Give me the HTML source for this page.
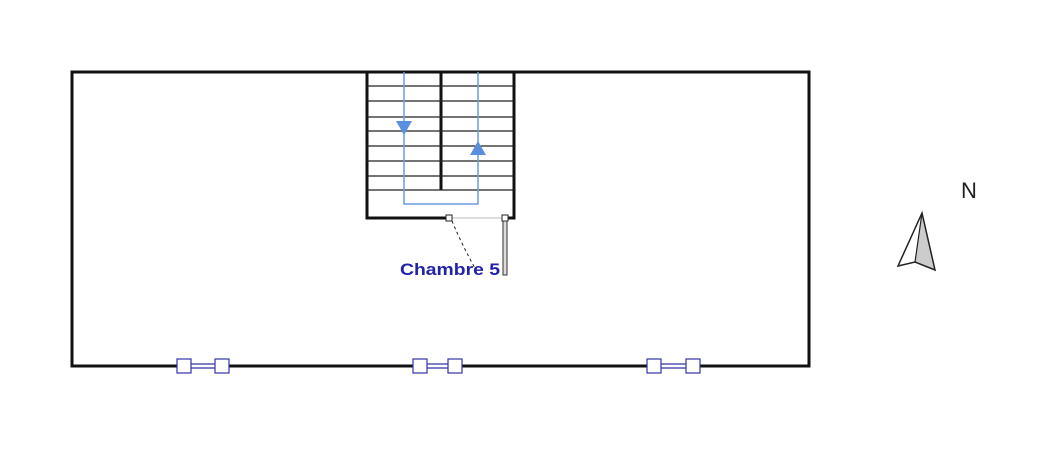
<!DOCTYPE html>
<html><head><style>body{margin:0;background:#fff}svg{display:block}</style></head><body>
<svg width="1039" height="463" viewBox="0 0 1039 463" xmlns="http://www.w3.org/2000/svg">
<g stroke="#111" stroke-width="3" fill="none">
<path d="M367 72 H72 V366 H809 V72 H514"/>
<path d="M367 72 H514"/>
<path d="M367 72 V218 H449"/>
<path d="M514 72 V218 H506"/>
<path d="M441 72 V190"/>
</g>
<g stroke="#222" stroke-width="1.2">
<line x1="367" y1="86" x2="514" y2="86"/><line x1="367" y1="101" x2="514" y2="101"/>
<line x1="367" y1="117" x2="514" y2="117"/><line x1="367" y1="131" x2="514" y2="131"/>
<line x1="367" y1="146" x2="514" y2="146"/><line x1="367" y1="161" x2="514" y2="161"/>
<line x1="367" y1="176" x2="514" y2="176"/><line x1="367" y1="190" x2="514" y2="190"/>
</g>
<path d="M404 72 V204 H478 V72" stroke="#6a9be0" stroke-width="1.5" fill="none"/>
<polygon points="396,121 412,121 404,135" fill="#5a8fe0"/>
<polygon points="470,155 486,155 478,141" fill="#5a8fe0"/>
<line x1="449" y1="218" x2="506" y2="218" stroke="#bbb" stroke-width="1"/>
<rect x="446" y="215" width="6" height="6" fill="#fff" stroke="#222"/>
<rect x="502" y="215" width="6" height="6" fill="#fff" stroke="#222"/>
<rect x="503" y="221" width="4" height="54" fill="#ddd" stroke="#333" stroke-width="1"/>
<path d="M452 221 Q462 245 476 270" stroke="#222" stroke-dasharray="3,3" fill="none"/>
<text x="400" y="275" font-family="Liberation Sans, sans-serif" font-weight="bold" font-size="17" fill="#2222aa" textLength="100" lengthAdjust="spacingAndGlyphs">Chambre 5</text>
<g fill="#fff" stroke="none">
<rect x="191" y="363" width="24" height="7"/><rect x="427" y="363" width="21" height="7"/><rect x="661" y="363" width="25" height="7"/>
</g>
<g stroke="#3333aa" fill="#fff" stroke-width="1.2">
<line x1="191" y1="364" x2="215" y2="364"/><line x1="191" y1="368" x2="215" y2="368"/>
<rect x="177" y="359" width="14" height="14"/><rect x="215" y="359" width="14" height="14"/>
<line x1="427" y1="364" x2="448" y2="364"/><line x1="427" y1="368" x2="448" y2="368"/>
<rect x="413" y="359" width="14" height="14"/><rect x="448" y="359" width="14" height="14"/>
<line x1="661" y1="364" x2="686" y2="364"/><line x1="661" y1="368" x2="686" y2="368"/>
<rect x="647" y="359" width="14" height="14"/><rect x="686" y="359" width="14" height="14"/>
</g>
<text x="961" y="198" font-family="Liberation Sans, sans-serif" font-size="22" fill="#222">N</text>
<polygon points="922,213 915,262 935,270" fill="#ccc" stroke="none"/>
<polygon points="922,213 898,266 915,262 935,270" fill="none" stroke="#222" stroke-width="1.5"/>
<line x1="922" y1="213" x2="915" y2="262" stroke="#222" stroke-width="1.2"/>
</svg>
</body></html>
